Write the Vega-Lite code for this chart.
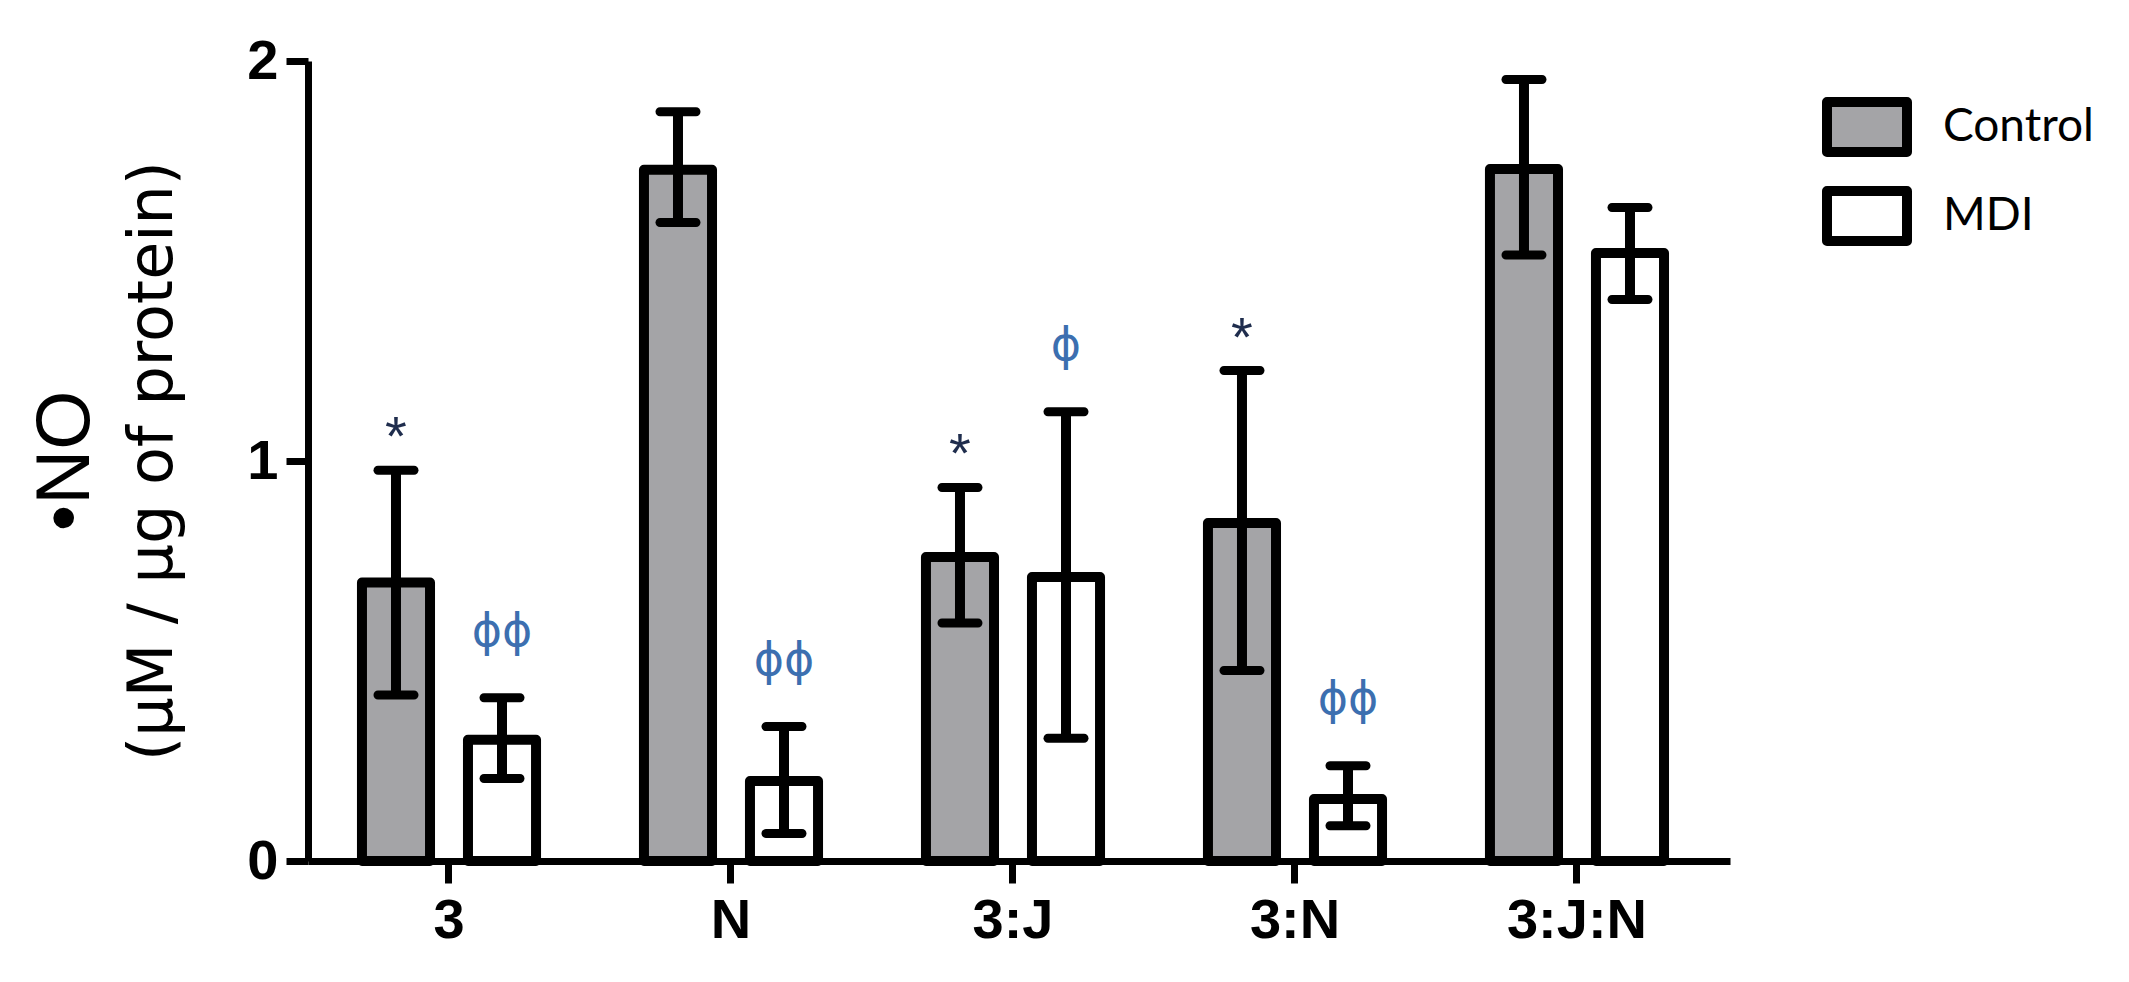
{
  "$schema": "https://vega.github.io/schema/vega-lite/v6.json",
  "width": 1422,
  "height": 800,
  "autosize": "none",
  "padding": {"left": 308, "top": 61, "right": 399, "bottom": 121},
  "background": "white",
  "title": {
    "text": "•NO",
    "subtitle": "(µM / µg of protein)",
    "orient": "left",
    "anchor": "middle",
    "font": "Liberation Sans",
    "fontSize": 76,
    "fontWeight": "normal",
    "color": "black",
    "subtitleFont": "DejaVu Sans",
    "subtitleFontSize": 62,
    "subtitleColor": "black",
    "subtitlePadding": 18,
    "offset": 62
  },
  "data": {
    "values": [
      {"group": "3", "treatment": "Control", "mean": 0.696, "lower": 0.415, "upper": 0.977, "sig": "*"},
      {"group": "3", "treatment": "MDI", "mean": 0.303, "lower": 0.206, "upper": 0.408, "sig": "ϕϕ"},
      {"group": "N", "treatment": "Control", "mean": 1.728, "lower": 1.596, "upper": 1.873, "sig": ""},
      {"group": "N", "treatment": "MDI", "mean": 0.200, "lower": 0.069, "upper": 0.336, "sig": "ϕϕ"},
      {"group": "3:J", "treatment": "Control", "mean": 0.760, "lower": 0.595, "upper": 0.934, "sig": "*"},
      {"group": "3:J", "treatment": "MDI", "mean": 0.710, "lower": 0.307, "upper": 1.123, "sig": "ϕ"},
      {"group": "3:N", "treatment": "Control", "mean": 0.845, "lower": 0.476, "upper": 1.226, "sig": "*"},
      {"group": "3:N", "treatment": "MDI", "mean": 0.155, "lower": 0.088, "upper": 0.238, "sig": "ϕϕ"},
      {"group": "3:J:N", "treatment": "Control", "mean": 1.730, "lower": 1.515, "upper": 1.954, "sig": ""},
      {"group": "3:J:N", "treatment": "MDI", "mean": 1.520, "lower": 1.404, "upper": 1.634, "sig": ""}
    ]
  },
  "encoding": {
    "x": {
      "field": "group",
      "type": "nominal",
      "sort": ["3", "N", "3:J", "3:N", "3:J:N"],
      "scale": {"paddingInner": 0, "paddingOuter": 0.0213, "align": 0},
      "axis": {
        "title": null,
        "labelAngle": 0,
        "domainColor": "black",
        "domainWidth": 7,
        "tickColor": "black",
        "tickWidth": 7,
        "tickSize": 22,
        "labelFont": "Liberation Sans",
        "labelFontWeight": "bold",
        "labelFontSize": 56,
        "labelColor": "black",
        "labelPadding": 10,
        "grid": false
      }
    },
    "xOffset": {
      "field": "treatment",
      "type": "nominal",
      "sort": ["Control", "MDI"],
      "scale": {"paddingInner": 0.358, "paddingOuter": 0.509}
    }
  },
  "layer": [
    {
      "mark": {"type": "bar", "stroke": "black", "strokeWidth": 10, "strokeJoin": "round"},
      "encoding": {
        "y": {
          "field": "mean",
          "type": "quantitative",
          "scale": {"domain": [0, 2], "nice": false},
          "axis": {
            "title": null,
            "values": [0, 1, 2],
            "format": ".0f",
            "labelOverlap": false,
            "domainColor": "black",
            "domainWidth": 7,
            "tickColor": "black",
            "tickWidth": 7,
            "tickSize": 22,
            "labelFont": "Liberation Sans",
            "labelFontWeight": "bold",
            "labelFontSize": 56,
            "labelColor": "black",
            "labelPadding": 8,
            "grid": false
          }
        },
        "fill": {
          "field": "treatment",
          "type": "nominal",
          "sort": ["Control", "MDI"],
          "scale": {"domain": ["Control", "MDI"], "range": ["#a4a4a7", "#ffffff"]},
          "legend": {
            "title": null,
            "orient": "none",
            "legendX": 1514,
            "legendY": 21,
            "padding": 0,
            "symbolType": "M-1,-0.625H1V0.625H-1Z",
            "symbolSize": 6400,
            "symbolStrokeWidth": 10,
            "symbolStrokeColor": "black",
            "symbolOpacity": 1,
            "labelFont": "Lato",
            "labelFontSize": 46,
            "labelColor": "black",
            "labelOffset": 31,
            "labelLimit": 500,
            "labelExpr": "datum.label == 'MDI' ? '\u00a0MDI' : datum.label",
            "rowPadding": 14,
            "encode": {
              "symbols": {
                "update": {
                  "stroke": {"value": "black"},
                  "strokeWidth": {"value": 10},
                  "strokeJoin": {"value": "round"}
                }
              }
            }
          }
        }
      }
    },
    {
      "mark": {"type": "rule", "strokeWidth": 10, "color": "black"},
      "encoding": {
        "y": {"field": "lower", "type": "quantitative"},
        "y2": {"field": "upper"}
      }
    },
    {
      "mark": {"type": "tick", "color": "black", "size": 45, "thickness": 9, "cornerRadius": 4.5, "opacity": 1},
      "encoding": {"y": {"field": "upper", "type": "quantitative"}}
    },
    {
      "mark": {"type": "tick", "color": "black", "size": 45, "thickness": 9, "cornerRadius": 4.5, "opacity": 1},
      "encoding": {"y": {"field": "lower", "type": "quantitative"}}
    },
    {
      "transform": [{"filter": "datum.sig == '*'"}],
      "mark": {"type": "text", "font": "Liberation Sans", "fontSize": 56, "baseline": "alphabetic", "dy": -15, "color": "#1f2d4d"},
      "encoding": {
        "y": {"field": "upper", "type": "quantitative"},
        "text": {"field": "sig"}
      }
    },
    {
      "transform": [{"filter": "datum.sig == 'ϕ' || datum.sig == 'ϕϕ'"}],
      "mark": {"type": "text", "font": "DejaVu Sans", "fontSize": 46, "baseline": "alphabetic", "dy": -52, "color": "#3c6fb0"},
      "encoding": {
        "y": {"field": "upper", "type": "quantitative"},
        "text": {"field": "sig"}
      }
    }
  ],
  "config": {"view": {"stroke": null}}
}
